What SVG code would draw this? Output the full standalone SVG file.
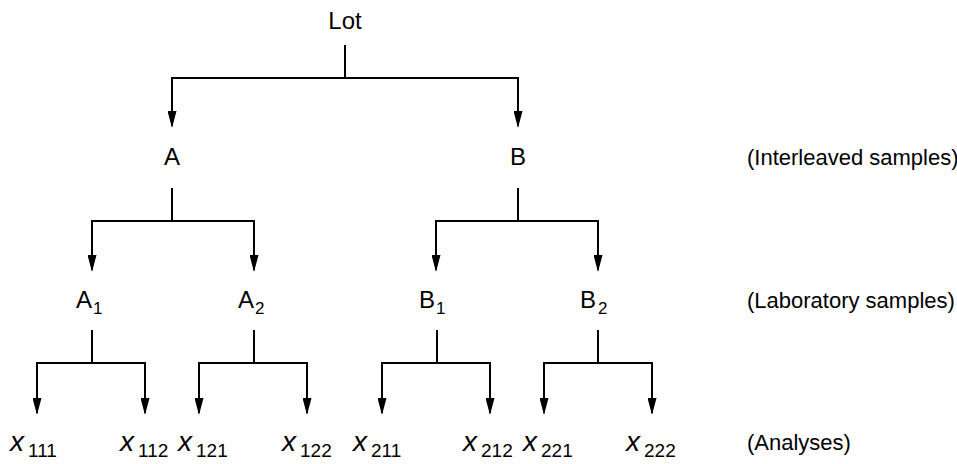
<svg xmlns="http://www.w3.org/2000/svg" width="957" height="464" viewBox="0 0 957 464">
<style>
text{font-family:"Liberation Sans",Arial,sans-serif;fill:#000}
.lbl{font-size:24px}
.side{font-size:22px}
.sub{font-size:17px}
.xv{font-size:28px;font-style:italic}
.xs{font-size:19px}
.c{fill:none;stroke:#000;stroke-width:2}
</style>
<defs>
<marker id="ah" viewBox="0 0 17 9" refX="15" refY="4.5" markerWidth="17" markerHeight="9" markerUnits="userSpaceOnUse" orient="auto">
<path d="M0,0 L17,4.5 L0,9 Z" fill="#000"/>
</marker>
</defs>
<rect width="957" height="464" fill="#fff"/>
<g id="connectors">
<path class="c" d="M345,45 V78 H172 V126" marker-end="url(#ah)"/>
<path class="c" d="M345,78 H518 V126" marker-end="url(#ah)"/>
<path class="c" d="M172,188 V221 H92 V270" marker-end="url(#ah)"/>
<path class="c" d="M172,221 H254 V270" marker-end="url(#ah)"/>
<path class="c" d="M518,188 V221 H436 V270" marker-end="url(#ah)"/>
<path class="c" d="M518,221 H598 V270" marker-end="url(#ah)"/>
<path class="c" d="M92,330 V363 H37 V413" marker-end="url(#ah)"/>
<path class="c" d="M92,363 H145 V413" marker-end="url(#ah)"/>
<path class="c" d="M254,330 V363 H199 V413" marker-end="url(#ah)"/>
<path class="c" d="M254,363 H307 V413" marker-end="url(#ah)"/>
<path class="c" d="M437,330 V363 H382 V413" marker-end="url(#ah)"/>
<path class="c" d="M437,363 H490 V413" marker-end="url(#ah)"/>
<path class="c" d="M598,330 V363 H544 V413" marker-end="url(#ah)"/>
<path class="c" d="M598,363 H652 V413" marker-end="url(#ah)"/>
</g>
<g id="lot"><text class="lbl" x="345" y="29" text-anchor="middle">Lot</text></g>
<g id="A"><text class="lbl" x="172" y="165" text-anchor="middle">A</text></g>
<g id="B"><text class="lbl" x="518" y="165" text-anchor="middle">B</text></g>
<g id="A1"><text class="lbl" x="76" y="308">A<tspan class="sub" dy="6" dx="1">1</tspan></text></g>
<g id="A2"><text class="lbl" x="238" y="308">A<tspan class="sub" dy="6" dx="1">2</tspan></text></g>
<g id="B1"><text class="lbl" x="419" y="308">B<tspan class="sub" dy="6" dx="1">1</tspan></text></g>
<g id="B2"><text class="lbl" x="580" y="308">B<tspan class="sub" dy="6" dx="2">2</tspan></text></g>
<g id="x111"><text x="10" y="451"><tspan class="xv">x</tspan><tspan class="xs" dx="4" dy="6">111</tspan></text></g>
<g id="x112"><text x="120" y="451"><tspan class="xv">x</tspan><tspan class="xs" dx="4" dy="6">112</tspan></text></g>
<g id="x121"><text x="178" y="451"><tspan class="xv">x</tspan><tspan class="xs" dx="4" dy="6">121</tspan></text></g>
<g id="x122"><text x="282" y="451"><tspan class="xv">x</tspan><tspan class="xs" dx="4" dy="6">122</tspan></text></g>
<g id="x211"><text x="353" y="451"><tspan class="xv">x</tspan><tspan class="xs" dx="4" dy="6">211</tspan></text></g>
<g id="x212"><text x="463" y="451"><tspan class="xv">x</tspan><tspan class="xs" dx="4" dy="6">212</tspan></text></g>
<g id="x221"><text x="523" y="451"><tspan class="xv">x</tspan><tspan class="xs" dx="4" dy="6">221</tspan></text></g>
<g id="x222"><text x="626" y="451"><tspan class="xv">x</tspan><tspan class="xs" dx="4" dy="6">222</tspan></text></g>
<g id="level-labels">
<text class="side" x="747" y="165">(Interleaved samples)</text>
<text class="side" x="747" y="308">(Laboratory samples)</text>
<text class="side" x="747" y="450">(Analyses)</text>
</g>
</svg>
